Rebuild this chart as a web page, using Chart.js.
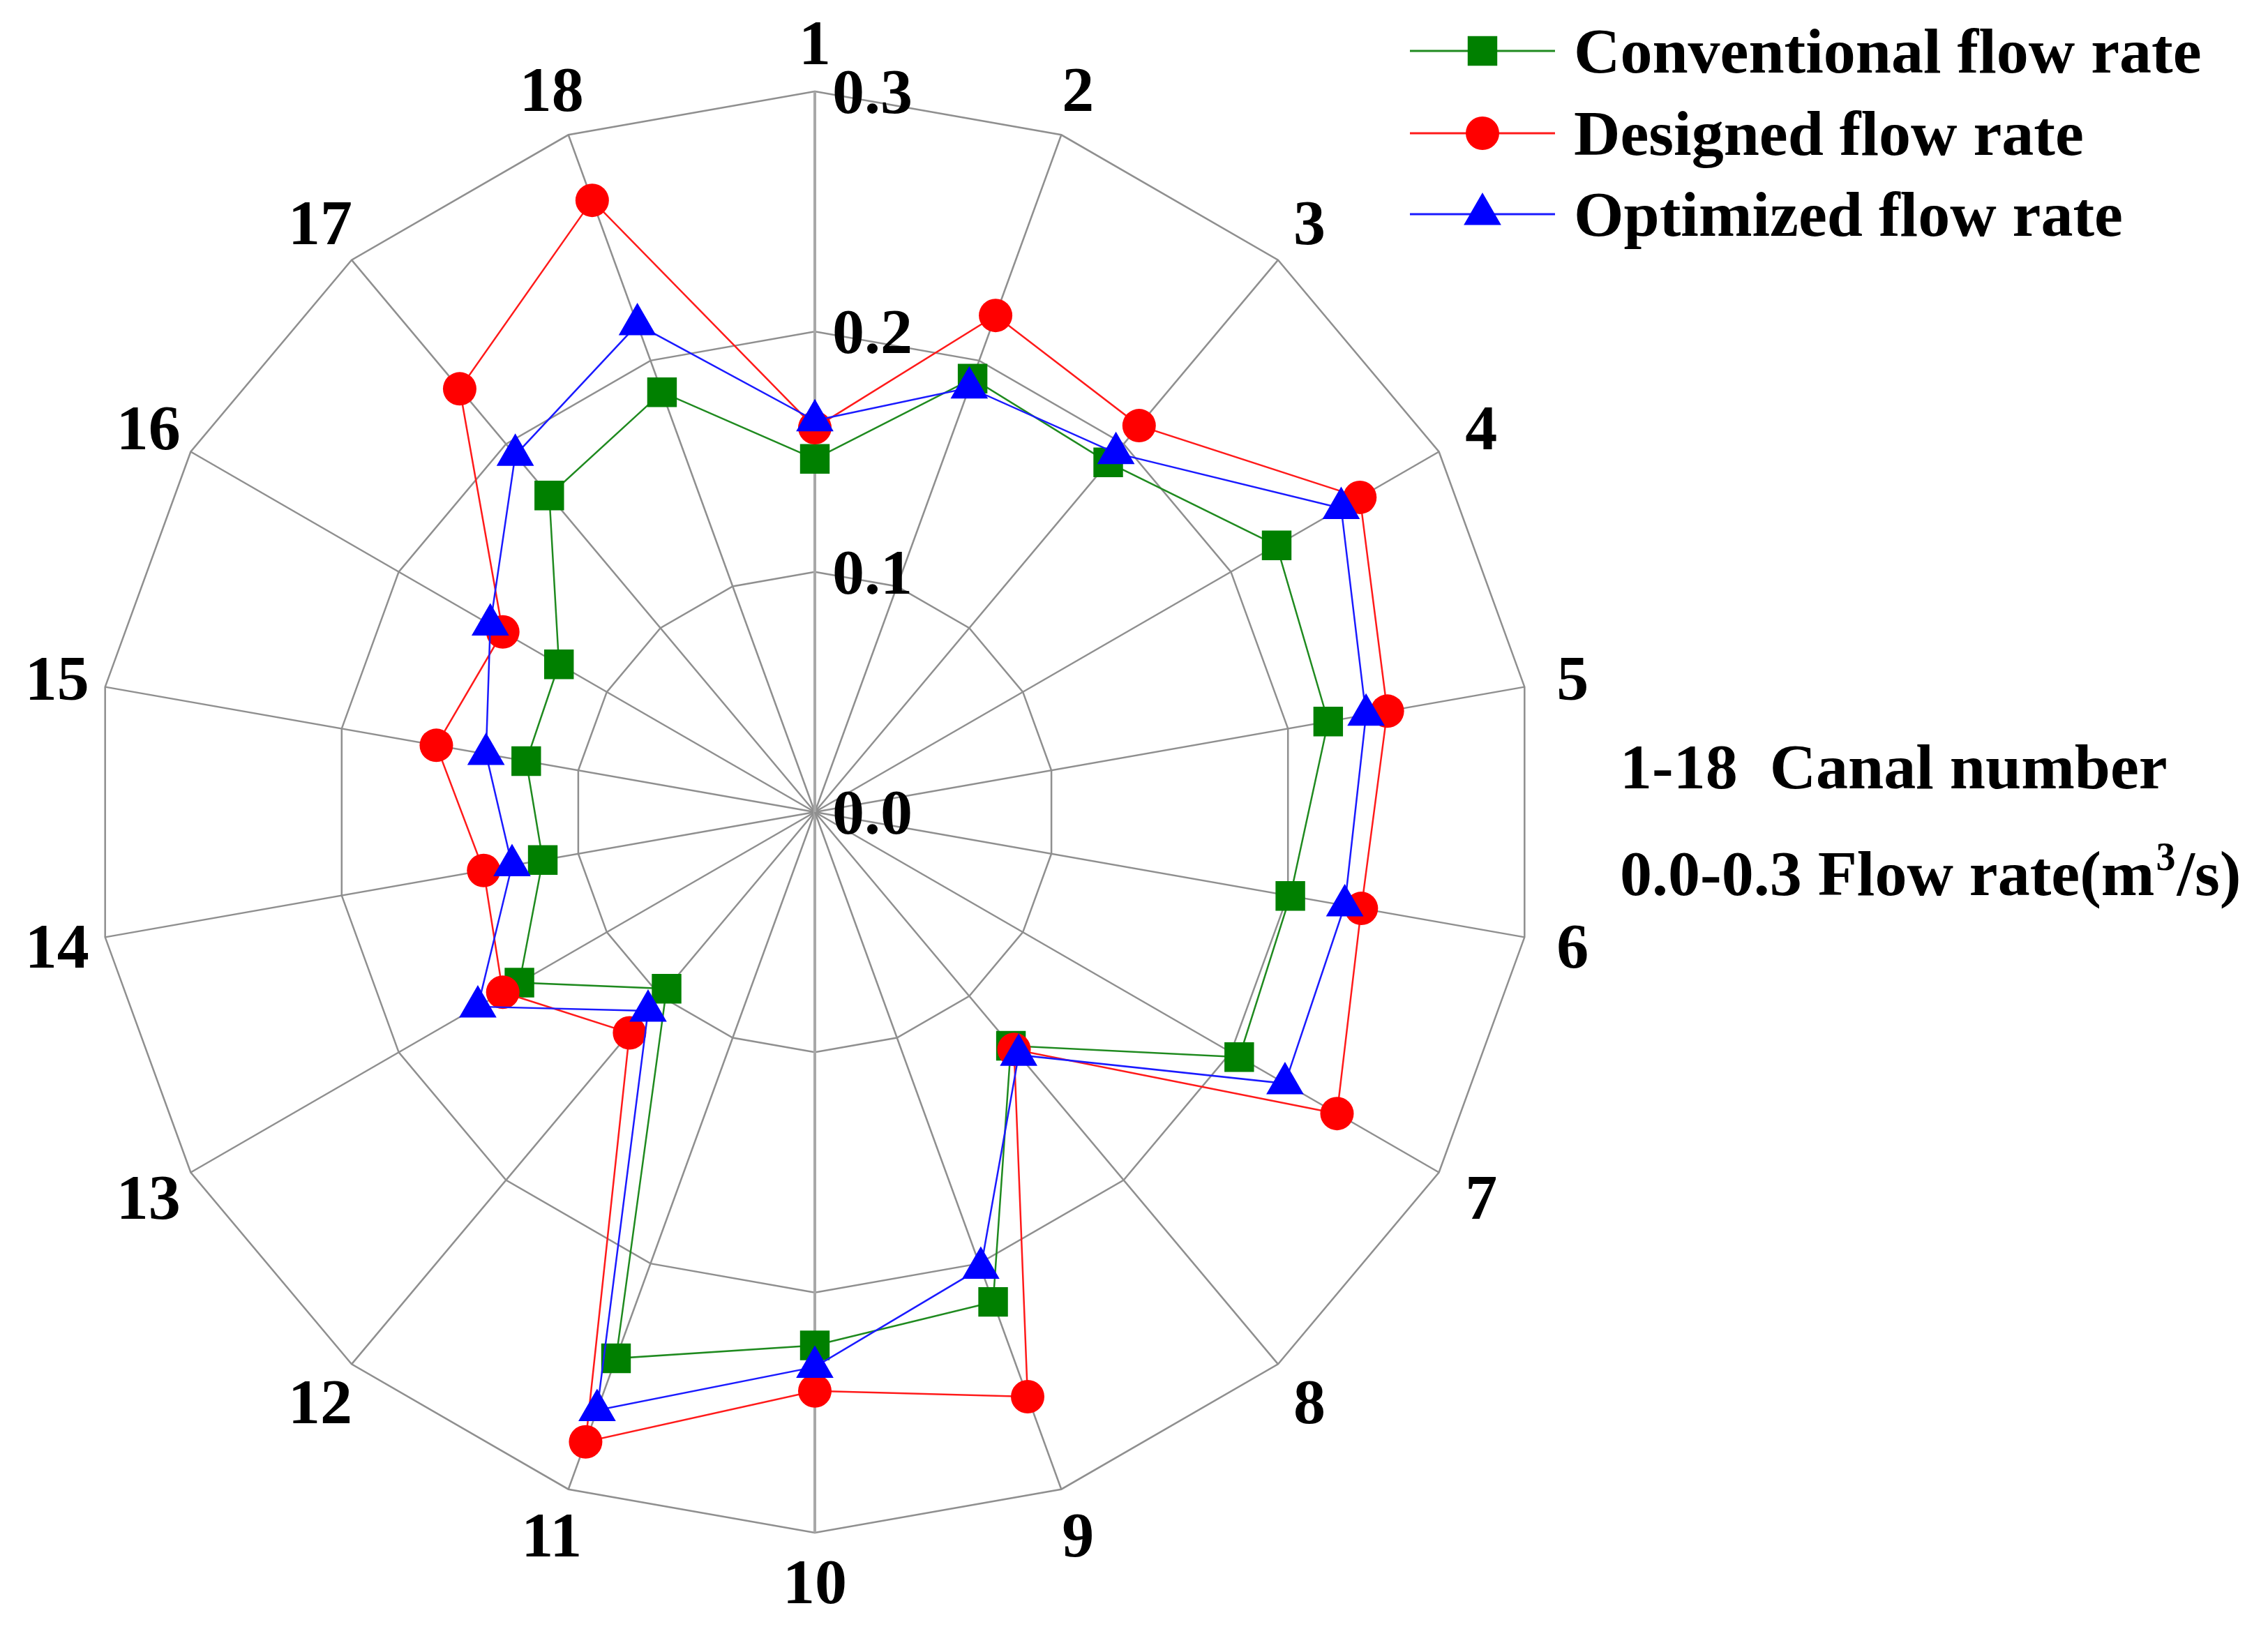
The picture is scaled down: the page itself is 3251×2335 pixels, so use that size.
<!DOCTYPE html>
<html>
<head>
<meta charset="utf-8">
<script src="https://cdn.jsdelivr.net/npm/chart.js@4.4.1/dist/chart.umd.min.js"></script>
<style>
  html, body { margin: 0; padding: 0; background: #fff; }
  #wrap { width: 3251px; height: 2335px; position: relative; }
</style>
</head>
<body>
<div id="wrap"><canvas id="radarChart"></canvas></div>
<script>
// canal numbers round the radar
const canals = ['1', '2', '3', '4', '5', '6', '7', '8', '9', '10', '11', '12', '13', '14', '15', '16', '17', '18'];

// flow rate (m3/s) per canal
const conventional = [0.147, 0.192, 0.190, 0.222, 0.217, 0.201, 0.204, 0.127, 0.217, 0.222, 0.242, 0.096, 0.142, 0.115, 0.122, 0.123, 0.172, 0.186];
const designed     = [0.160, 0.220, 0.210, 0.262, 0.242, 0.231, 0.251, 0.129, 0.259, 0.241, 0.279, 0.120, 0.150, 0.140, 0.160, 0.150, 0.230, 0.271];
const optimized    = [0.163, 0.188, 0.195, 0.253, 0.233, 0.224, 0.226, 0.132, 0.202, 0.231, 0.265, 0.108, 0.162, 0.128, 0.139, 0.156, 0.194, 0.216];

const seriesNames = ['Conventional flow rate', 'Designed flow rate', 'Optimized flow rate'];
const rMin = 0, rMax = 0.3, rStep = 0.1;

const FONT = 'bold 92px "Liberation Serif", "Times New Roman", serif';

const series = [
    { label: seriesNames[0], data: conventional, color: '#008000', line: '#1f8a1f', style: 'rect', radius: 30, order: 3 },
    { label: seriesNames[1], data: designed, color: '#ff0000', line: '#ff1a1a', style: 'circle', radius: 24, order: 2 },
    { label: seriesNames[2], data: optimized, color: '#0000ff', line: '#1a1aff', style: 'triangle', radius: 31, order: 1 }
];

// labels, ticks, legend and the side notes
const overlay = {
    id: 'overlay',
    afterDraw(chart) {
        const ctx = chart.ctx;
        const r = chart.scales.r;
        ctx.save();
        ctx.fillStyle = '#000';
        ctx.font = FONT;

        // tick labels just right of spoke 1
        ctx.textAlign = 'left';
        r.ticks.forEach(t => {
            const d = r.getDistanceFromCenterForValue(t.value);
            ctx.fillText(t.value.toFixed(1), r.xCenter + 25, r.yCenter - d + 31);
        });

        // canal numbers
        ctx.textAlign = 'center';
        canals.forEach((c, i) => {
            const p = r.getPointPosition(i, r.drawingArea + 70);
            ctx.fillText(c, p.x, p.y + 31);
        });

        // legend
        const rows = [73, 191, 307];
        series.forEach((s, i) => {
            const y = rows[i];
            ctx.strokeStyle = s.line;
            ctx.lineWidth = 3;
            ctx.beginPath();
            ctx.moveTo(2021, y);
            ctx.lineTo(2229, y);
            ctx.stroke();
            ctx.fillStyle = s.color;
            Chart.helpers.drawPoint(ctx, { pointStyle: s.style, radius: s.radius, borderWidth: 0, rotation: 0 }, 2125, y);
            ctx.fillStyle = '#000';
            ctx.textAlign = 'left';
            ctx.fillText(s.label, 2256, y + 31);
        });

        // side notes
        ctx.textAlign = 'left';
        ctx.fillText('1-18  Canal number', 2322, 1099 + 31);
        let x = 2322;
        const y2 = 1252 + 31;
        const part1 = '0.0-0.3 Flow rate(m';
        ctx.fillText(part1, x, y2);
        x += ctx.measureText(part1).width + 2;
        ctx.font = 'bold 56px "Liberation Serif", "Times New Roman", serif';
        ctx.fillText('3', x, y2 - 36);
        x += ctx.measureText('3').width + 2;
        ctx.font = FONT;
        ctx.fillText('/s)', x, y2);
        ctx.restore();
    }
};

new Chart(document.getElementById('radarChart').getContext('2d'), {
    type: 'radar',
    data: {
        labels: canals,
        datasets: series.map(s => ({
            label: s.label,
            data: s.data,
            order: s.order,
            borderColor: s.line,
            borderWidth: 2.5,
            backgroundColor: s.color,
            fill: false,
            tension: 0,
            pointStyle: s.style,
            pointRadius: s.radius,
            pointBackgroundColor: s.color,
            pointBorderWidth: 0,
            pointHoverRadius: s.radius
        }))
    },
    plugins: [overlay],
    options: {
        responsive: true,
        maintainAspectRatio: false,
        animation: false,
        devicePixelRatio: 1,
        layout: { padding: { left: 135, top: 131, right: 1050, bottom: 138 } },
        plugins: {
            legend: { display: false },
            tooltip: { enabled: false }
        },
        scales: {
            r: {
                min: rMin,
                max: rMax,
                ticks: { stepSize: rStep, display: false },
                grid: { color: '#8f8f8f', lineWidth: 2.5 },
                angleLines: {
                    display: true,
                    color: ctx => (ctx.index === 0 || ctx.index === 9) ? '#a8a8a8' : '#8f8f8f',
                    lineWidth: ctx => (ctx.index === 0 || ctx.index === 9) ? 4 : 2.5
                },
                pointLabels: { display: false }
            }
        }
    }
});
</script>
</body>
</html>
